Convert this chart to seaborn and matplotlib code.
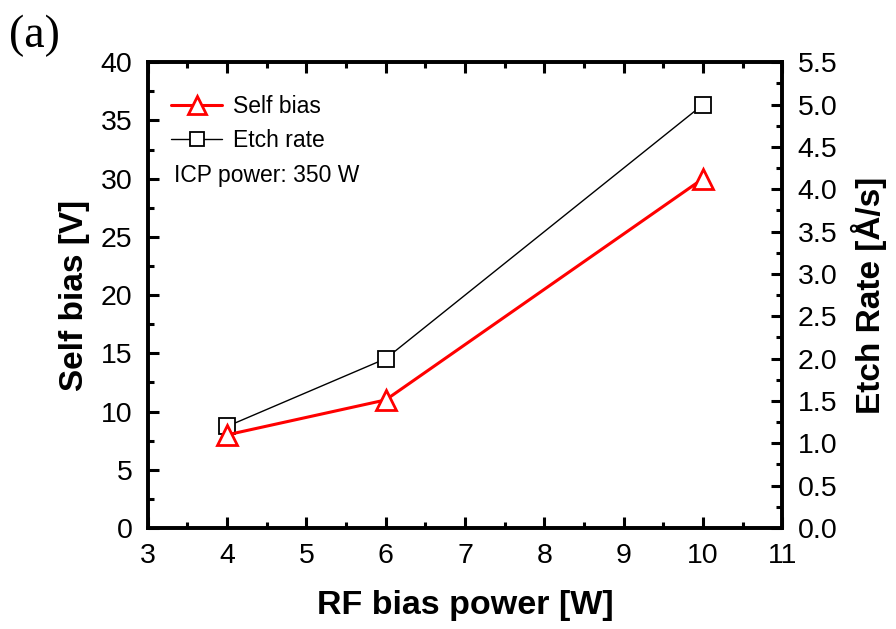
import matplotlib
matplotlib.use("Agg")
import matplotlib.pyplot as plt
import seaborn as sns
import pandas as pd
from matplotlib.ticker import MultipleLocator
from matplotlib.lines import Line2D

rf_power = [4, 6, 10]
self_bias = [8, 11, 30]
etch_rate = [1.2, 2.0, 5.0]

sns.set_theme(style="white")
plt.rcParams['font.family'] = ['Liberation Sans', 'DejaVu Sans']
plt.rcParams['text.color'] = 'black'
plt.rcParams['axes.labelcolor'] = 'black'
plt.rcParams['xtick.color'] = 'black'
plt.rcParams['ytick.color'] = 'black'

df = pd.DataFrame({"power": rf_power, "bias": self_bias, "etch": etch_rate})

fig = plt.figure(figsize=(8.96, 6.29), dpi=100)
ax = fig.add_axes([0.165, 0.1606, 0.708, 0.7404])
ax2 = ax.twinx()

sns.lineplot(data=df, x="power", y="etch", ax=ax2, color="black", lw=1.0,
             marker="s", markersize=11, markerfacecolor="white",
             markeredgecolor="black", markeredgewidth=1.3)
sns.lineplot(data=df, x="power", y="bias", ax=ax, color="red", lw=2.2,
             marker="^", markersize=15, markerfacecolor="white",
             markeredgecolor="red", markeredgewidth=2.0, zorder=5)
ax.set_zorder(ax2.get_zorder() + 1)
ax.patch.set_visible(False)

ax.set_xlim(3, 11)
ax.set_ylim(0, 40)
ax2.set_ylim(0, 5.5)
ax.xaxis.set_major_locator(MultipleLocator(1))
ax.xaxis.set_minor_locator(MultipleLocator(0.5))
ax.yaxis.set_major_locator(MultipleLocator(5))
ax.yaxis.set_minor_locator(MultipleLocator(2.5))
ax2.yaxis.set_major_locator(MultipleLocator(0.5))
ax2.yaxis.set_minor_locator(MultipleLocator(0.25))

for a in (ax, ax2):
    for s in a.spines.values():
        s.set_linewidth(2.6)
        s.set_color("black")

ax.tick_params(which="both", direction="in", top=True, bottom=True, left=True, right=False,
               width=2.2, labelsize=20.5, pad=11, colors="black")
ax.tick_params(which="major", length=8)
ax.tick_params(which="minor", length=4)
ax2.tick_params(which="both", direction="in", right=True, left=False, width=2.2,
                labelsize=20.5, pad=11, colors="black")
ax2.tick_params(which="major", length=8)
ax2.tick_params(which="minor", length=4)
ax2.set_yticks(ax2.get_yticks())
ax2.set_yticklabels([f"{v:.1f}" for v in ax2.get_yticks()])
ax2.set_ylim(0, 5.5)

ax.set_xlabel("RF bias power [W]", fontsize=24.5, fontweight="bold", labelpad=15)
ax.set_ylabel("Self bias [V]", fontsize=24, fontweight="bold", labelpad=8)
ax2.set_ylabel("Etch Rate [Å/s]", fontsize=24, fontweight="bold", labelpad=10)

handles = [
    Line2D([], [], color="red", lw=2.2, marker="^", markersize=13, markerfacecolor="white",
           markeredgecolor="red", markeredgewidth=2.0),
    Line2D([], [], color="black", lw=1.0, marker="s", markersize=10, markerfacecolor="white",
           markeredgecolor="black", markeredgewidth=1.3),
    Line2D([], [], color="none"),
]
leg = ax.legend(handles, ["Self bias", "Etch rate", "ICP power: 350 W"], loc="upper left",
                frameon=False, fontsize=16.5, handlelength=2.2, handletextpad=0.48,
                labelspacing=0.5, borderaxespad=0.3, bbox_to_anchor=(0.012, 0.965))
leg.get_texts()[2].set_position((-59, 0))

fig.text(0.010, 0.925, "(a)", fontsize=33, family=["Liberation Serif", "DejaVu Serif"])

fig.savefig("out.png", dpi=100)
